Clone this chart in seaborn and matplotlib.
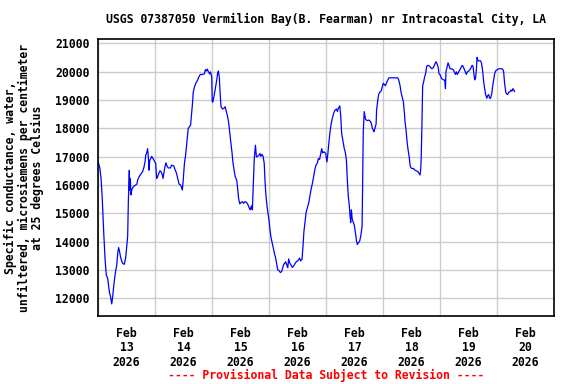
"""
Specific conductance at USGS 07387050 (Vermilion Bay), Feb 13-20 2026.
Recreates the USGS provisional-data chart: blue line on a day/1000 grid.
"""

import matplotlib
matplotlib.use("Agg")
import matplotlib.dates as mdates
import matplotlib.pyplot as plt
import pandas as pd
import seaborn as sns

# --- Data -------------------------------------------------------------------
# hours since 2026-02-13 00:00 and specific conductance (uS/cm at 25 C)
hours = [
    0.1, 0.7, 1.3, 1.8, 2.4, 3.0, 3.5, 4.1, 4.5, 4.9, 5.3, 5.8, 6.2, 6.6,
    7.0, 7.4, 7.9, 8.3, 8.7, 9.1, 9.5, 10.0, 10.4, 11.1, 11.7, 12.1, 12.5,
    12.8, 13.2, 13.3, 13.6, 13.9, 14.2, 14.6, 15.2, 15.9, 16.4, 16.7, 17.3,
    18.0, 18.8, 19.4, 19.8, 20.1, 20.5, 20.9, 21.2, 21.5, 21.8, 22.2, 22.6,
    23.2, 23.7, 24.3, 24.7, 25.1, 25.5, 26.1, 26.5, 27.0, 27.4, 27.7, 28.2,
    28.6, 29.1, 29.6, 30.5, 31.0, 31.9, 32.4, 33.0, 33.5, 34.1, 34.7, 35.1,
    35.5, 35.8, 36.1, 36.4, 36.9, 37.5, 38.0, 38.6, 39.0, 39.4, 39.9, 40.1,
    40.6, 41.1, 41.5, 42.0, 42.4, 43.1, 43.9, 44.8, 45.2, 45.6, 46.0, 46.5,
    47.0, 47.4, 47.9, 48.1, 48.3, 48.8, 49.4, 50.0, 50.4, 50.7, 51.1, 51.4,
    51.8, 52.4, 53.1, 53.5, 53.9, 54.5, 54.9, 55.3, 55.9, 56.4, 56.8, 57.4,
    57.8, 58.4, 58.8, 59.2, 59.7, 60.2, 60.8, 61.3, 61.9, 62.6, 63.2, 63.7,
    64.1, 64.6, 65.0, 65.4, 65.8, 66.3, 66.7, 67.2, 67.8, 68.2, 68.6, 69.1,
    69.5, 70.0, 70.3, 70.7, 71.2, 71.6, 72.0, 72.4, 72.8, 73.4, 73.8, 74.3,
    74.7, 75.2, 75.7, 76.2, 76.8, 77.3, 77.8, 78.2, 78.6, 79.0, 79.4, 79.9,
    80.3, 80.7, 81.3, 81.8, 82.4, 83.0, 83.5, 84.1, 84.5, 84.9, 85.3, 85.9,
    86.3, 86.7, 87.2, 87.6, 88.1, 88.7, 89.3, 89.8, 90.3, 90.8, 91.4, 91.8,
    92.4, 92.8, 93.3, 93.8, 94.2, 94.6, 95.2, 95.9, 96.4, 96.8, 97.3, 97.8,
    98.3, 98.7, 99.2, 99.8, 100.4, 100.8, 101.2, 101.8, 102.2, 102.6, 103.2,
    103.7, 104.1, 104.6, 105.0, 105.4, 105.8, 106.1, 106.4, 106.7, 107.0,
    107.4, 107.9, 108.4, 108.8, 109.2, 109.6, 110.2, 110.7, 111.2, 111.4,
    111.7, 112.1, 112.6, 113.0, 113.5, 114.1, 114.7, 115.1, 115.5, 115.9,
    116.2, 116.6, 117.1, 117.3, 117.8, 118.2, 118.6, 119.2, 119.7, 120.1,
    120.6, 121.0, 121.4, 122.0, 122.5, 123.7, 125.1, 126.2, 126.6, 127.2,
    127.6, 128.1, 128.6, 129.0, 129.3, 129.7, 130.1, 130.5, 131.0, 131.2,
    131.5, 132.1, 132.8, 133.5, 134.2, 134.7, 135.2, 135.6, 135.9, 136.1,
    136.4, 136.7, 137.1, 137.5, 138.0, 138.4, 139.0, 139.5, 140.1, 140.6,
    141.2, 141.8, 142.3, 142.7, 143.2, 143.6, 144.1, 144.6, 145.4, 146.0,
    146.3, 146.5, 147.0, 147.4, 147.8, 148.2, 148.9, 149.6, 150.0, 150.5,
    150.9, 151.3, 151.9, 152.4, 153.0, 153.4, 153.8, 154.3, 154.7, 155.1,
    155.5, 156.1, 156.6, 157.1, 157.5, 157.9, 158.3, 158.6, 159.0, 159.3,
    159.6, 160.0, 160.6, 161.1, 161.5, 162.0, 162.4, 162.8, 163.2, 163.7,
    164.1, 164.5, 164.9, 165.3, 165.8, 166.2, 166.6, 167.0, 167.4, 168.1,
    168.8, 169.7, 170.4, 170.8, 171.2, 171.7, 172.1, 172.5, 172.9, 173.5,
    173.9, 174.3, 174.7, 175.2, 175.4,
]
conductance = [
    16800, 16630, 16230, 15530, 14350, 13350, 12820, 12700, 12410, 12180,
    12060, 11800, 12060, 12410, 12700, 12940, 13170, 13580, 13790, 13640,
    13460, 13310, 13230, 13200, 13460, 13840, 14190, 15470, 16520, 15820,
    16230, 15650, 15820, 15900, 15960, 16000, 16035, 16170, 16290, 16380,
    16470, 16640, 16810, 17050, 17130, 17280, 16990, 16520, 16870, 16930,
    17010, 16930, 16850, 16760, 16230, 16290, 16380, 16500, 16470, 16380,
    16230, 16400, 16640, 16780, 16660, 16600, 16600, 16700, 16670, 16550,
    16430, 16260, 16035, 16000, 15940, 15820, 16060, 16430, 16760, 17050,
    17560, 18000, 18060, 18120, 18500, 18980, 19270, 19450, 19570, 19630,
    19710, 19800, 19900, 19900, 19920, 20070, 20020, 20090, 19990, 19920,
    19990, 19800, 18950, 18920, 19100, 19400, 19700, 19950, 20020, 19800,
    19270, 18760, 18680, 18710, 18760, 18640, 18440, 18270, 18000, 17520,
    17170, 16810, 16470, 16290, 16170, 15880, 15530, 15330, 15380, 15410,
    15350, 15410, 15380, 15290, 15180, 15120, 15260, 15120, 16060, 16930,
    17400, 16990, 17010, 17050, 17110, 17010, 17080, 17010, 16760, 16170,
    15650, 15230, 15000, 14760, 14430, 14170, 13930, 13760, 13580, 13460,
    13230, 13000, 12980, 12910, 12940, 13090, 13200, 13230, 13290, 13200,
    13080, 13390, 13250, 13170, 13090, 13140, 13230, 13290, 13320, 13370,
    13420, 13320, 13370, 13810, 14350, 14700, 15020, 15180, 15350, 15650,
    15880, 16060, 16290, 16580, 16700, 16780, 16930, 16900, 17110, 17280,
    17130, 17170, 17110, 16810, 17110, 17560, 17940, 18210, 18360, 18520,
    18640, 18680, 18590, 18710, 18790, 18440, 17820, 17520, 17280, 17170,
    16870, 16150, 15590, 15290, 14940, 14670, 15120, 14820, 14700, 14590,
    14310, 14050, 13900, 13950, 14020, 14230, 14530, 15940, 17880, 18590,
    18330, 18290, 18270, 18290, 18240, 18170, 18000, 17940, 17880, 18000,
    18150, 18640, 18990, 19200, 19270, 19310, 19470, 19590, 19540, 19500,
    19590, 19700, 19780, 19780, 19780, 19780, 19710, 19500, 19270, 19100,
    18920, 18560, 18210, 17940, 17560, 17280, 17010, 16850, 16640, 16580,
    16580, 16520, 16490, 16470, 16400, 16350, 16580, 16990, 18150, 19500,
    19630, 19800, 19950, 20190, 20220, 20200, 20140, 20100, 20140, 20250,
    20350, 20290, 20170, 19920, 19880, 19760, 19710, 19700, 19400, 19990,
    20170, 20310, 20220, 20100, 20100, 20070, 19990, 19900, 19990, 19900,
    19990, 20070, 20170, 20220, 20170, 20070, 19990, 19900, 19990, 20020,
    20070, 20140, 20220, 20190, 19920, 19710, 19780, 20050, 20500, 20380,
    20380, 20380, 20290, 19990, 19630, 19400, 19210, 19060, 19150, 19190,
    19060, 19060, 19230, 19500, 19700, 19920, 20020, 20070, 20100, 20100,
    20090, 19990, 19590, 19270, 19210, 19190, 19270, 19290, 19350, 19310,
    19400, 19330, 19290,
]
y_ticks = [12000, 13000, 14000, 15000, 16000, 17000, 18000, 19000, 20000, 21000]

START = pd.Timestamp("2026-02-13")
END = pd.Timestamp("2026-02-21")

TITLE = "USGS 07387050 Vermilion Bay(B. Fearman) nr Intracoastal City, LA"
YLABEL = ("Specific conductance, water,\n"
          "unfiltered, microsiemens per centimeter\n"
          "at 25 degrees Celsius")
FOOTER = "---- Provisional Data Subject to Revision ----"


def main() -> None:
    df = pd.DataFrame({
        "time": START + pd.to_timedelta(hours, unit="h"),
        "value": conductance,
    })

    sns.set_style("white")
    plt.rcParams["font.family"] = ["DejaVu Sans Mono"]
    plt.rcParams["font.weight"] = "bold"
    # USGS plots use pure black text, seaborn defaults to dark grey
    for key in ("text.color", "axes.labelcolor", "xtick.color", "ytick.color"):
        plt.rcParams[key] = "black"

    fig = plt.figure(figsize=(5.76, 3.84), dpi=100)
    ax = fig.add_axes([0.1701, 0.1771, 0.7917, 0.7213])

    sns.lineplot(data=df, x="time", y="value", ax=ax,
                 color="#0000ff", linewidth=0.9, estimator=None)

    ax.set_xlim(START, END)
    ax.set_ylim(11375, 21150)
    ax.set_yticks(y_ticks)
    ax.set_yticklabels([str(v) for v in y_ticks], fontsize=8.3,
                       fontweight="bold")

    # gridlines at midnight, labels at noon
    ax.xaxis.set_major_locator(mdates.DayLocator())
    ax.xaxis.set_major_formatter(plt.NullFormatter())
    ax.xaxis.set_minor_locator(mdates.HourLocator(byhour=[12]))
    ax.xaxis.set_minor_formatter(mdates.DateFormatter("%b\n%d\n%Y"))
    for lbl in ax.xaxis.get_minorticklabels():
        lbl.set_fontsize(8.3)
        lbl.set_fontweight("bold")
        lbl.set_linespacing(1.12)
    ax.tick_params(axis="x", which="both", length=0, pad=8)
    ax.tick_params(axis="y", length=0, pad=6)

    ax.grid(True, which="major", color="#cccccc", linewidth=1)
    ax.set_axisbelow(True)
    for sp in ax.spines.values():
        sp.set_color("black")
        sp.set_linewidth(1.2)

    ax.set_xlabel("")
    ax.set_ylabel(YLABEL, fontsize=8.3, fontweight="bold", linespacing=1.05,
                  labelpad=8)

    fig.text(0.566, 0.95, TITLE, ha="center", va="center", fontsize=8.3,
             fontweight="bold")
    fig.text(0.566, 0.023, FOOTER, ha="center", va="center", fontsize=8.3,
             fontweight="bold", color="#ff0000")

    fig.savefig("out.png", dpi=100)
    plt.close(fig)


if __name__ == "__main__":
    main()
